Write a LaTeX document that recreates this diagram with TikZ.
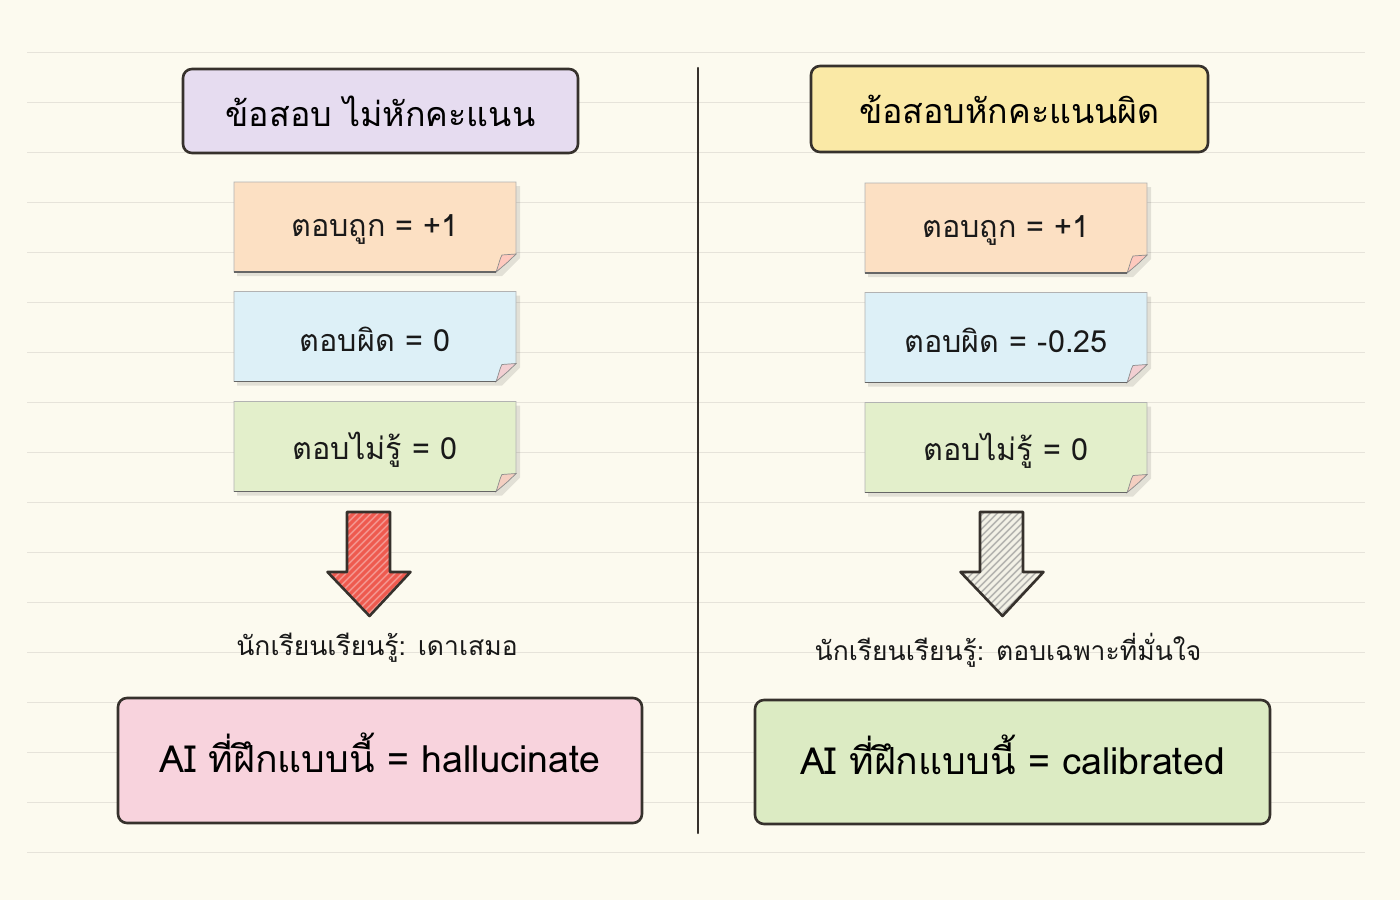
\documentclass[tikz,border=0pt]{standalone}
\usepackage{fontspec}
\newfontfamily\thai[Script=Thai]{Loma}
\definecolor{bg}{HTML}{FCFAEF}
\definecolor{rule}{HTML}{E6E3DA}
\definecolor{ink}{HTML}{36312C}
\definecolor{lav}{HTML}{E6DCF0}
\definecolor{yel}{HTML}{FAE9A6}
\definecolor{peach}{HTML}{FCE0C3}
\definecolor{sky}{HTML}{DDF0F7}
\definecolor{mint}{HTML}{E3EFCB}
\definecolor{pinkb}{HTML}{F8D3DD}
\definecolor{greenb}{HTML}{DCEBC3}
\definecolor{redarrow}{HTML}{EE5A4F}
\definecolor{palearrow}{HTML}{F3F1E6}
\begin{document}
\begin{tikzpicture}[x=1pt,y=-1pt,
  box/.style={draw=ink, line width=2.6pt, rounded corners=9pt, inner sep=0pt, font=\thai, text=black},
  notetext/.style={inner sep=0pt, font=\thai\fontsize{30.5}{34}\selectfont, text=black!90},
  caption/.style={inner sep=0pt, font=\thai\fontsize{26.5}{30}\selectfont, text=black!90},
  notebody/.style={draw=black!30, line width=0.8pt},
]
\useasboundingbox (0,0) rectangle (1400,900);
\fill[bg] (0,0) rectangle (1400,900);
\foreach \yy in {52,102,...,852} \draw[rule, line width=1pt] (27,\yy) -- (1365,\yy);
% divider
\coordinate (dtop) at (698,68);
\coordinate (dbot) at (698,833);
\draw[ink, line width=2.4pt, line cap=round] (dtop) -- (dbot);

% titles
\node[box, fill=lav, minimum width=395, minimum height=84, font=\thai\fontsize{34}{40}\selectfont] (t1) at (380.5,111) {ข้อสอบ ไม่หักคะแนน};
\node[box, fill=yel, minimum width=397, minimum height=86, font=\thai\fontsize{34}{40}\selectfont] (t2) at (1009.5,109) {ข้อสอบหักคะแนนผิด};

% sticky notes
\newcommand{\sticky}[5]{% name, x, y, color, text
  \begin{scope}
  \fill[black, opacity=0.10] ({#2-141+3},{#3-45+4}) -- ({#2+141+4},{#3-45+4}) -- ({#2+141+4},{#3+45-18+4}) -- ({#2+141-18+4},{#3+45+4}) -- ({#2-141+3},{#3+45+4}) -- cycle;
  \filldraw[notebody, fill=#4] ({#2-141},{#3-45}) -- ({#2+141},{#3-45}) -- ({#2+141},{#3+45-18}) -- ({#2+141-20},{#3+45}) -- ({#2-141},{#3+45}) -- cycle;
  \filldraw[draw=black!45, line width=0.7pt, fill=#4!70!red!55!white] ({#2+141-20},{#3+45}) .. controls ({#2+141-17},{#3+45-8}) and ({#2+141-16},{#3+45-14}) .. ({#2+141-14},{#3+45-17}) -- ({#2+141},{#3+45-18}) .. controls ({#2+141-8},{#3+45-10}) .. ({#2+141-20},{#3+45}) -- cycle;
  \draw[black!60, line width=1.2pt] ({#2-141},{#3+45}) -- ({#2+141-20},{#3+45});
  \node[notetext] (#1) at (#2,{#3+3}) {#5};
  \end{scope}}
\sticky{l1}{375}{227}{peach}{ตอบถูก = +1}
\sticky{l2}{375}{336.5}{sky}{ตอบผิด = 0}
\sticky{l3}{375}{446.5}{mint}{ตอบไม่รู้ = 0}
\sticky{r1}{1006}{228}{peach}{ตอบถูก = +1}
\sticky{r2}{1006}{337.5}{sky}{ตอบผิด = -0.25}
\sticky{r3}{1006}{447.5}{mint}{ตอบไม่รู้ = 0}

% arrows
\newcommand{\blockarrow}[4]{% x center, fill, hatch color, hatch opacity
  \begin{scope}
  \path[clip] ({#1-21.5},512) -- ({#1+21.5},512) -- ({#1+21.5},572) -- ({#1+42},572) -- ({#1+1},616) -- ({#1-41},572) -- ({#1-21.5},572) -- cycle;
  \fill[#2] ({#1-50},500) rectangle ({#1+50},620);
  \foreach \k in {-160,-153,...,60} \draw[#3, opacity=#4, line width=1.6pt] ({#1+\k},620) -- ({#1+\k+110},510);
  \end{scope}
  \draw[ink, line width=2.6pt, line join=round] ({#1-21.5},512) -- ({#1+21.5},512) -- ({#1+21.5},572) -- ({#1+42},572) -- ({#1+1},616) -- ({#1-41},572) -- ({#1-21.5},572) -- cycle;}
\blockarrow{368.5}{redarrow}{white}{0.35}
\blockarrow{1001.5}{palearrow}{black!45}{0.6}

% captions
\node[caption] (c1) at (377,648) {นักเรียนเรียนรู้: เดาเสมอ};
\node[caption] (c2) at (1008,650) {นักเรียนเรียนรู้: ตอบเฉพาะที่มั่นใจ};

% results
\node[box, fill=pinkb, minimum width=524, minimum height=125, text height=30, text depth=6, font=\thai\fontsize{37.4}{44}\selectfont] (b1) at (380,760.5) {AI ที่ฝึกแบบนี้ = hallucinate};
\node[box, fill=greenb, minimum width=515, minimum height=124, text height=30, text depth=6, font=\thai\fontsize{37.4}{44}\selectfont] (b2) at (1012.5,762) {AI ที่ฝึกแบบนี้ = calibrated};
\end{tikzpicture}
\end{document}
